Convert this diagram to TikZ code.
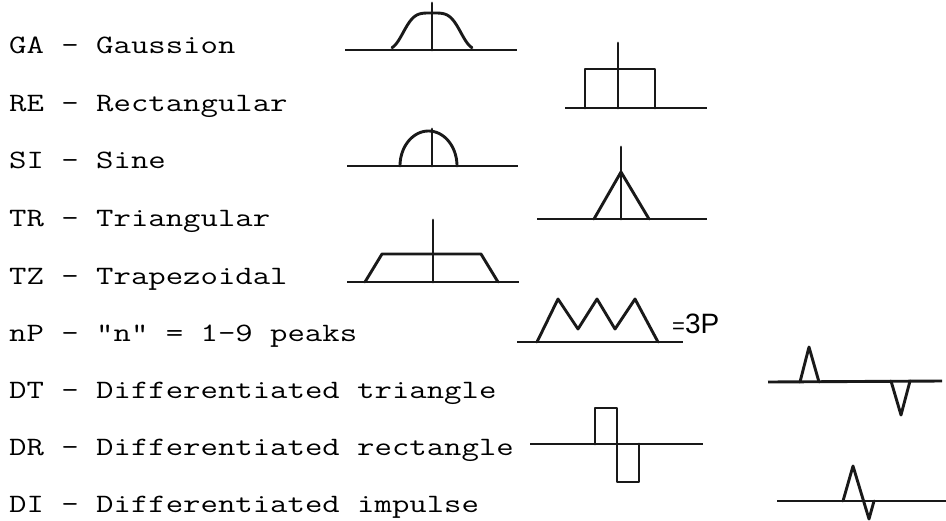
\documentclass[tikz,border=0pt]{standalone}
\usepackage{fontspec}
\usepackage{graphicx}
\newfontfamily\labelsans{Liberation Sans}
\newcommand\monolbl[1]{\scalebox{1.275}[1]{\ttfamily\addfontfeatures{FakeBold=2}\fontsize{26.5}{28}\selectfont #1}}
\tikzset{
  lbl/.style={anchor=base west, inner sep=0pt},
  wave/.style={line width=2.9pt, line join=round, line cap=round, black!90},
  axisline/.style={line width=2.9pt, black!90},
}
\begin{document}
\begin{tikzpicture}[x=1pt,y=-1pt]
\useasboundingbox (0,0) rectangle (946,520);
% labels
\node[lbl] (ga) at (9,53) {\monolbl{GA - Gaussion}};
\node[lbl] (re) at (9,111) {\monolbl{RE - Rectangular}};
\node[lbl] (si) at (9,168) {\monolbl{SI - Sine}};
\node[lbl] (tr) at (9,226) {\monolbl{TR - Triangular}};
\node[lbl] (tz) at (9,284) {\monolbl{TZ - Trapezoidal}};
\node[lbl] (np) at (9,341) {\monolbl{nP - "n" = 1-9 peaks}};
\node[lbl] (dt) at (9,398) {\monolbl{DT - Differentiated triangle}};
\node[lbl] (dr) at (9,455) {\monolbl{DR - Differentiated rectangle}};
\node[lbl] (di) at (9,512) {\monolbl{DI - Differentiated impulse}};
\node[anchor=base west, inner sep=0pt, font=\labelsans\fontsize{28}{30}\selectfont] (p3) at (672,333) {{\fontsize{22}{22}\selectfont=}3P};
% GA gaussian
\draw[axisline] (345,50) -- (517,50);
\draw[wave] plot[domain=-40:40, samples=81, smooth] ({432+\x},{50-37*exp(-(\x*\x/961)*(\x*\x/961))});
\draw[wave] (432,3) -- (432,50);
% RE rectangular
\draw[axisline] (565,108) -- (707,108);
\draw[wave] (585,108) -- (585,69) -- (655,69) -- (655,108);
\draw[wave] (618,43) -- (618,108);
% SI sine
\draw[axisline] (347,166) -- (518,166);
\draw[wave] plot[domain=180:0, samples=60, smooth] ({428.5+28.5*cos(\x)},{166-35*sin(\x)});
\draw[wave] (432,129) -- (432,166);
% TR triangular
\draw[axisline] (537,219) -- (707,219);
\draw[wave] (594,219) -- (621,172) -- (649,219);
\draw[wave] (621,147) -- (621,219);
% TZ trapezoidal
\draw[axisline] (347,282) -- (519,282);
\draw[wave] (365,282) -- (382,254) -- (481,254) -- (498,282);
\draw[wave] (433,220) -- (433,282);
% nP 3 peaks
\draw[axisline] (517,342) -- (683,342);
\draw[wave] (537,342) -- (558,299) -- (578,329) -- (597,299) -- (615,329) -- (635,299) -- (658,342);
% DT differentiated triangle
\draw[axisline] (768,382) -- (942,381);
\draw[wave] (800,382) -- (809,347) -- (819,382);
\draw[wave] (891,381) -- (901,415) -- (910,381);
% DR differentiated rectangle
\draw[axisline] (530,444) -- (703,444);
\draw[wave] (595,444) -- (595,408) -- (617,408) -- (617,482) -- (639,482) -- (639,444);
% DI differentiated impulse
\draw[axisline] (777,501) -- (946,501);
\draw[wave] (843,501) -- (853,466) -- (869,519) -- (874,501);
\end{tikzpicture}
\end{document}
